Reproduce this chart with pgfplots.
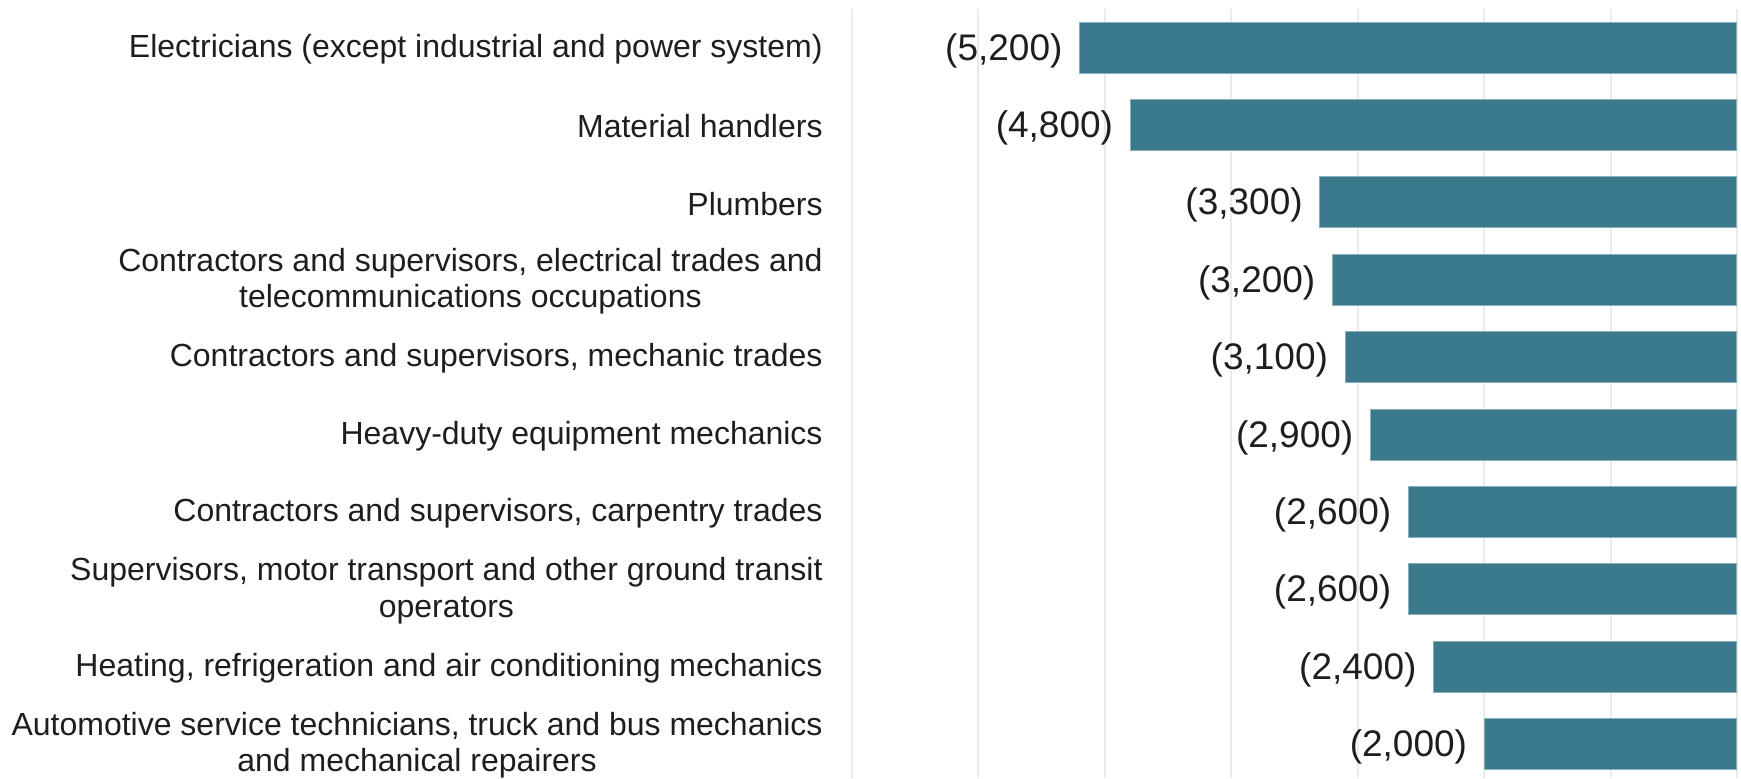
\documentclass[border=0pt]{standalone}
\usepackage{pgfplots}
\pgfplotsset{compat=1.18}
\usepackage{fontspec}
\setmainfont{Liberation Sans}
\definecolor{barc}{HTML}{3B798C}
\definecolor{gridc}{HTML}{EBEBEB}
\definecolor{txt}{HTML}{1E1E1E}
\begin{document}
\begin{tikzpicture}
\path[use as bounding box] (-426pt,0pt) rectangle (444.5pt,389pt);
\begin{axis}[
  at={(0pt,0pt)}, anchor=south west,
  scale only axis,
  width=442.5pt, height=384.5pt,
  xmin=-7000, xmax=0,
  ymin=-0.5, ymax=9.44,
  y dir=reverse,
  axis line style={draw=none},
  xtick={-7000,-6000,...,0},
  xticklabels={},
  xmajorgrids,
  grid style={gridc, line width=1pt},
  major tick length=0pt,
  ytick={0,...,9},
  yticklabels={
    Electricians (except industrial and power system),
    Material handlers,
    Plumbers,
    {Contractors and supervisors, electrical trades and\\telecommunications occupations},
    {Contractors and supervisors, mechanic trades},
    Heavy-duty equipment mechanics,
    {Contractors and supervisors, carpentry trades},
    {Supervisors, motor transport and other ground transit\\operators},
    {Heating, refrigeration and air conditioning mechanics},
    {Automotive service technicians, truck and bus mechanics\\and mechanical repairers}
  },
  yticklabel style={align=center, inner sep=0pt, xshift=-14.5pt, yshift=-0.7pt, text=txt,
    font=\fontsize{16}{18.3}\selectfont},
  clip=false,
  point meta=explicit symbolic,
  nodes near coords,
  nodes near coords style={anchor=east, inner sep=0pt, xshift=-8.3pt, yshift=-1.5pt, text=txt,
    font=\fontsize{18.5}{20}\selectfont},
]
\addplot[xbar, bar width=25.5pt, bar shift=0pt, fill=barc, draw=barc!60!white, line width=0.5pt]
  table[x=x, y=y, meta=lab] {
x y lab
-5200 0 (5,200)
-4800 1 (4,800)
-3300 2 (3,300)
-3200 3 (3,200)
-3100 4 (3,100)
-2900 5 (2,900)
-2600 6 (2,600)
-2600 7 (2,600)
-2400 8 (2,400)
-2000 9 (2,000)
};
\end{axis}
\end{tikzpicture}
\end{document}
